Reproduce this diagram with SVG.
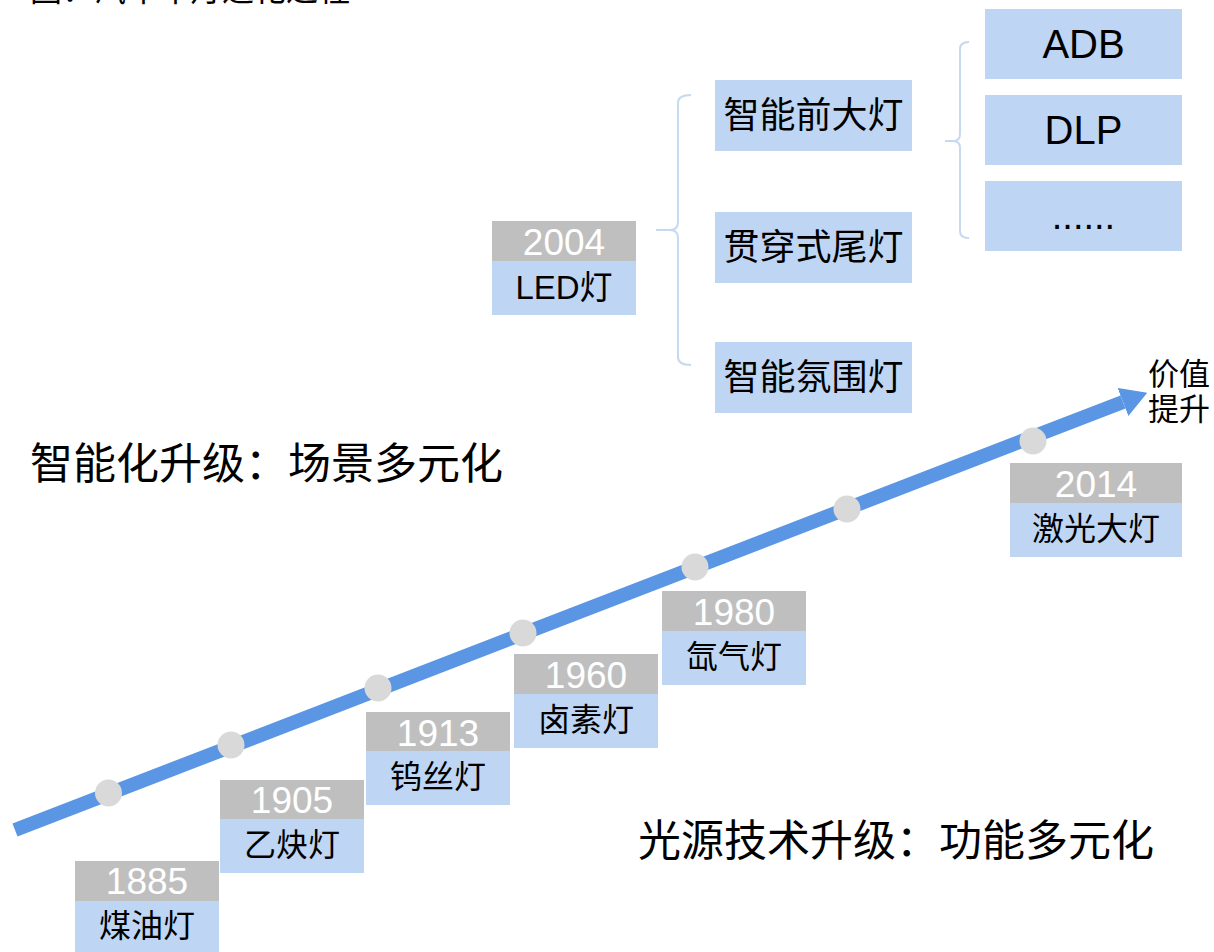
<svg xmlns="http://www.w3.org/2000/svg" width="1214" height="952" viewBox="0 0 1214 952">
<style>
text{font-family:"Liberation Sans","Noto Sans CJK SC",sans-serif;}
.yr{fill:#bfbfbf;}
.lb{fill:#bed5f4;}
.yt{fill:#ffffff;font-size:37px;text-anchor:middle;}
.lt{fill:#000000;font-size:32px;text-anchor:middle;}
.bt{fill:#000000;font-size:36px;text-anchor:middle;}
.ht{fill:#000000;font-size:43px;}
.dot{fill:#d9d9d9;}
.br{fill:none;stroke:#c6d9f1;stroke-width:2;}
</style>
<defs>
<marker id="ah" markerUnits="userSpaceOnUse" markerWidth="26" markerHeight="30" viewBox="0 0 26 30" refX="0" refY="15" orient="auto">
<path d="M0,0 L26,15 L0,30 z" fill="#5a96e3"/>
</marker>
</defs>
<rect width="1214" height="952" fill="#ffffff"/>
<text id="title" x="30" y="0.5" style="font-size:32px;fill:#000">图：汽车车灯进化过程</text>
<g id="connectors">
<line x1="15" y1="830" x2="1123" y2="402" stroke="#5a96e3" stroke-width="14" marker-end="url(#ah)"/>
<path class="br" d="M691,95 Q678,95 678,103 L678,222 Q678,230 670,230 L656,230 M670,230 Q678,230 678,238 L678,357 Q678,365 691,365"/>
<path class="br" d="M969,42 Q960,42 960,49 L960,134 Q960,141 953,141 L945,141 M953,141 Q960,141 960,148 L960,231 Q960,238 969,238"/>
</g>
<g id="dots">
<circle class="dot" cx="108.5" cy="793" r="13.5"/>
<circle class="dot" cx="231" cy="745" r="13.5"/>
<circle class="dot" cx="378" cy="688" r="13.5"/>
<circle class="dot" cx="523" cy="633" r="13.5"/>
<circle class="dot" cx="695" cy="567" r="13.5"/>
<circle class="dot" cx="847" cy="509" r="13.5"/>
<circle class="dot" cx="1033" cy="441" r="13.5"/>
</g>
<g id="n1885">
<rect class="yr" x="75" y="861" width="144" height="40"/>
<rect class="lb" x="75" y="901" width="144" height="51"/>
<text class="yt" x="147" y="894">1885</text>
<text class="lt" x="147" y="937">煤油灯</text>
</g>
<g id="n1905">
<rect class="yr" x="220" y="780" width="144" height="39"/>
<rect class="lb" x="220" y="819" width="144" height="54"/>
<text class="yt" x="292" y="813">1905</text>
<text class="lt" x="292" y="856">乙炔灯</text>
</g>
<g id="n1913">
<rect class="yr" x="366" y="712" width="144" height="39"/>
<rect class="lb" x="366" y="751" width="144" height="54"/>
<text class="yt" x="438" y="746">1913</text>
<text class="lt" x="438" y="788">钨丝灯</text>
</g>
<g id="n1960">
<rect class="yr" x="514" y="654" width="144" height="40"/>
<rect class="lb" x="514" y="694" width="144" height="54"/>
<text class="yt" x="586" y="688">1960</text>
<text class="lt" x="586" y="731">卤素灯</text>
</g>
<g id="n1980">
<rect class="yr" x="662" y="591" width="144" height="40"/>
<rect class="lb" x="662" y="631" width="144" height="54"/>
<text class="yt" x="734" y="625">1980</text>
<text class="lt" x="734" y="668">氙气灯</text>
</g>
<g id="n2014">
<rect class="yr" x="1010" y="463" width="172" height="40"/>
<rect class="lb" x="1010" y="503" width="172" height="54"/>
<text class="yt" x="1096" y="497">2014</text>
<text class="lt" x="1096" y="540">激光大灯</text>
</g>
<g id="n2004">
<rect class="yr" x="492" y="221" width="144" height="40"/>
<rect class="lb" x="492" y="261" width="144" height="54"/>
<text class="yt" x="564" y="255">2004</text>
<text class="lt" x="564" y="299" style="font-size:33px">LED灯</text>
</g>
<g id="headlamp">
<rect class="lb" x="715" y="80" width="197" height="71"/>
<text class="bt" x="813.5" y="128">智能前大灯</text>
</g>
<g id="taillamp">
<rect class="lb" x="715" y="212" width="197" height="71"/>
<text class="bt" x="813.5" y="260">贯穿式尾灯</text>
</g>
<g id="ambient">
<rect class="lb" x="715" y="342" width="197" height="71"/>
<text class="bt" x="813.5" y="390">智能氛围灯</text>
</g>
<g id="adb">
<rect class="lb" x="985" y="9" width="197" height="70"/>
<text class="bt" x="1083.5" y="58" style="font-size:40px">ADB</text>
</g>
<g id="dlp">
<rect class="lb" x="985" y="95" width="197" height="70"/>
<text class="bt" x="1083.5" y="144" style="font-size:40px">DLP</text>
</g>
<g id="more">
<rect class="lb" x="985" y="181" width="197" height="70"/>
<text class="bt" x="1083.5" y="229" style="font-size:38px">......</text>
</g>
<g id="labels">
<text class="ht" x="30" y="479">智能化升级：场景多元化</text>
<text class="ht" x="638" y="856">光源技术升级：功能多元化</text>
<text x="1148" y="385" style="font-size:31px;fill:#000">价值</text>
<text x="1148" y="420" style="font-size:31px;fill:#000">提升</text>
</g>
</svg>
